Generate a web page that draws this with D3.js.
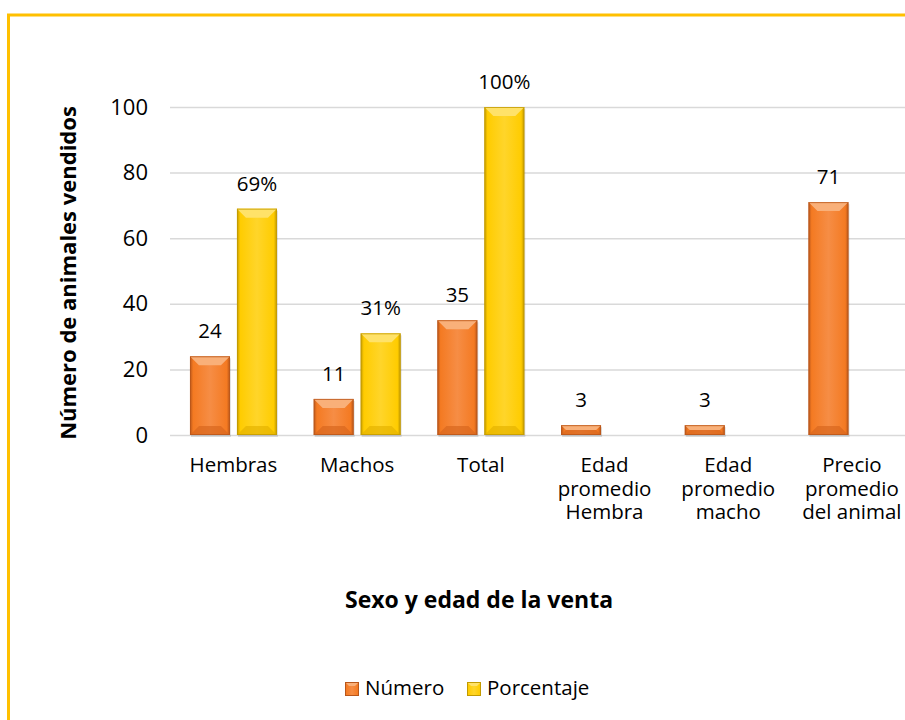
<!DOCTYPE html>
<html>
<head>
<meta charset="utf-8">
<script src="https://cdn.jsdelivr.net/npm/d3@7"></script>
<style>
  html, body { margin: 0; padding: 0; background: #fff; }
  svg text { font-family: "Open Sans", Lato, sans-serif; fill: #000; }
</style>
</head>
<body>
<script>
"use strict";

// chart data
const categories = [
  ["Hembras"],
  ["Machos"],
  ["Total"],
  ["Edad", "promedio", "Hembra"],
  ["Edad", "promedio", "macho"],
  ["Precio", "promedio", "del animal"]
];
const seriesNames = ["Número", "Porcentaje"];
const numero = [24, 11, 35, 3, 3, 71];
const porcentaje = [69, 31, 100, null, null, null];
const yTicks = [0, 20, 40, 60, 80, 100];

//Dimensions
const w = 905;
const h = 720;
const plotLeft = 171.6;
const plotRight = 913.8;
const plotTop = 107;
const plotBottom = 435;

const colors = {
  "Número": { main: "#F47A22", light: "#F9B079", mid: "#F68D45", dark: "#B9561A", bottom: "#D9661E" },
  "Porcentaje": { main: "#FFCC00", light: "#FFE269", mid: "#FFD52A", dark: "#C29A00", bottom: "#E6B400" }
};

const svg = d3.select("body").append("svg").attr("width", w).attr("height", h);

// outer frame (yellow border)
svg.append("rect")
  .attr("x", 8.5).attr("y", 15)
  .attr("width", 1000).attr("height", 1000)
  .attr("fill", "none")
  .attr("stroke", "#FFC000")
  .attr("stroke-width", 3);

const keys = categories.map((c) => c.join(" "));

const x = d3.scaleBand()
  .domain(keys)
  .range([plotLeft, plotRight])
  .paddingInner(0.297)
  .paddingOuter(0.1485);

const xInner = d3.scaleBand()
  .domain(seriesNames)
  .range([0, x.bandwidth()])
  .paddingInner(0.149);

const y = d3.scaleLinear().domain([0, 100]).range([plotBottom, plotTop]);

//y axis with gridlines
const yAxis = d3.axisLeft(y)
  .tickValues(yTicks)
  .tickSize(-(w - 170))
  .tickPadding(22);

svg.append("g")
  .attr("transform", "translate(170,0)")
  .call(yAxis)
  .call((g) => g.select(".domain").remove())
  .call((g) => g.selectAll(".tick line").attr("stroke", "#D9D9D9").attr("stroke-width", 1.5))
  .call((g) => g.selectAll(".tick text").attr("font-size", 22).attr("font-family", "'Open Sans', sans-serif").attr("fill", "#000"));

// gradients
const defs = svg.append("defs");
seriesNames.forEach((s, i) => {
  const c = colors[s];
  const g = defs.append("linearGradient").attr("id", "grad" + i).attr("x1", "0").attr("x2", "1").attr("y1", "0").attr("y2", "0");
  g.append("stop").attr("offset", "0").attr("stop-color", c.dark);
  g.append("stop").attr("offset", "0.08").attr("stop-color", c.main);
  g.append("stop").attr("offset", "0.5").attr("stop-color", c.mid);
  g.append("stop").attr("offset", "0.92").attr("stop-color", c.main);
  g.append("stop").attr("offset", "1").attr("stop-color", c.dark);
});

const bars = [];
keys.forEach((k, i) => {
  bars.push({ key: k, series: "Número", value: numero[i], idx: 0 });
  if (porcentaje[i] !== null) bars.push({ key: k, series: "Porcentaje", value: porcentaje[i], idx: 1 });
});

const bw = xInner.bandwidth();

const barG = svg.append("g")
  .selectAll("g")
  .data(bars)
  .enter()
  .append("g")
  .attr("transform", (d) => `translate(${x(d.key) + xInner(d.series)},${y(d.value)})`);

// soft shadow
barG.append("rect")
  .attr("x", 1).attr("y", 2)
  .attr("width", bw).attr("height", (d) => plotBottom - y(d.value))
  .attr("fill", "#000").attr("opacity", 0.12);

barG.append("rect")
  .attr("width", bw)
  .attr("height", (d) => plotBottom - y(d.value))
  .attr("fill", (d) => `url(#grad${d.idx})`);

// bevel top
barG.append("polygon")
  .attr("points", (d) => {
    const bh = plotBottom - y(d.value);
    const b = Math.min(9, bh / 2);
    return `0,0 ${bw},0 ${bw - b},${b} ${b},${b}`;
  })
  .attr("fill", (d) => colors[d.series].light);

// bevel bottom
barG.append("polygon")
  .attr("points", (d) => {
    const bh = plotBottom - y(d.value);
    const b = Math.min(9, bh / 2);
    return `0,${bh} ${bw},${bh} ${bw - b},${bh - b} ${b},${bh - b}`;
  })
  .attr("fill", (d) => colors[d.series].bottom)
  .attr("opacity", 0.7);

barG.append("rect")
  .attr("x", 0.5).attr("y", 0.5)
  .attr("width", bw - 1)
  .attr("height", (d) => Math.max(0, plotBottom - y(d.value) - 1))
  .attr("fill", "none")
  .attr("stroke", (d) => colors[d.series].dark)
  .attr("stroke-width", 1)
  .attr("opacity", 0.8);

// data labels
svg.append("g")
  .selectAll("text")
  .data(bars)
  .enter()
  .append("text")
  .attr("x", (d) => x(d.key) + xInner(d.series) + bw / 2)
  .attr("y", (d) => y(d.value) - 18)
  .attr("text-anchor", "middle")
  .attr("font-size", 20.5)
  .text((d) => d.series === "Porcentaje" ? d.value + "%" : d.value);

// category labels
const catG = svg.append("g")
  .selectAll("text")
  .data(categories)
  .enter()
  .append("text")
  .attr("text-anchor", "middle")
  .attr("font-size", 20.5)
  .attr("x", (d) => x(d.join(" ")) + x.bandwidth() / 2)
  .attr("y", 472);

catG.selectAll("tspan")
  .data((d) => d)
  .enter()
  .append("tspan")
  .attr("x", function () { return d3.select(this.parentNode).attr("x"); })
  .attr("dy", (d, i) => i === 0 ? 0 : 23.5)
  .text((d) => d);

//axis titles
svg.append("text")
  .attr("transform", `translate(76, ${(plotTop + plotBottom) / 2 + 2}) rotate(-90)`)
  .attr("text-anchor", "middle")
  .attr("font-size", 22)
  .attr("font-weight", "bold")
  .text("Número de animales vendidos");

svg.append("text")
  .attr("x", 479)
  .attr("y", 608)
  .attr("text-anchor", "middle")
  .attr("font-size", 23)
  .attr("font-weight", "bold")
  .text("Sexo y edad de la venta");

// legend
const legendX = [345, 467];
const legend = svg.append("g")
  .selectAll("g")
  .data(seriesNames)
  .enter()
  .append("g")
  .attr("transform", (d, i) => `translate(${legendX[i]}, 682)`);

legend.append("rect")
  .attr("width", 14).attr("height", 14)
  .attr("fill", (d, i) => `url(#grad${i})`);
legend.append("polygon")
  .attr("points", "0,0 14,0 10,4 4,4")
  .attr("fill", (d) => colors[d].light);
legend.append("rect")
  .attr("x", 0.5).attr("y", 0.5).attr("width", 13).attr("height", 13)
  .attr("fill", "none")
  .attr("stroke", (d) => colors[d].dark);
legend.append("text")
  .attr("x", 20)
  .attr("y", 13)
  .attr("font-size", 20.5)
  .text((d) => d);
</script>
</body>
</html>
